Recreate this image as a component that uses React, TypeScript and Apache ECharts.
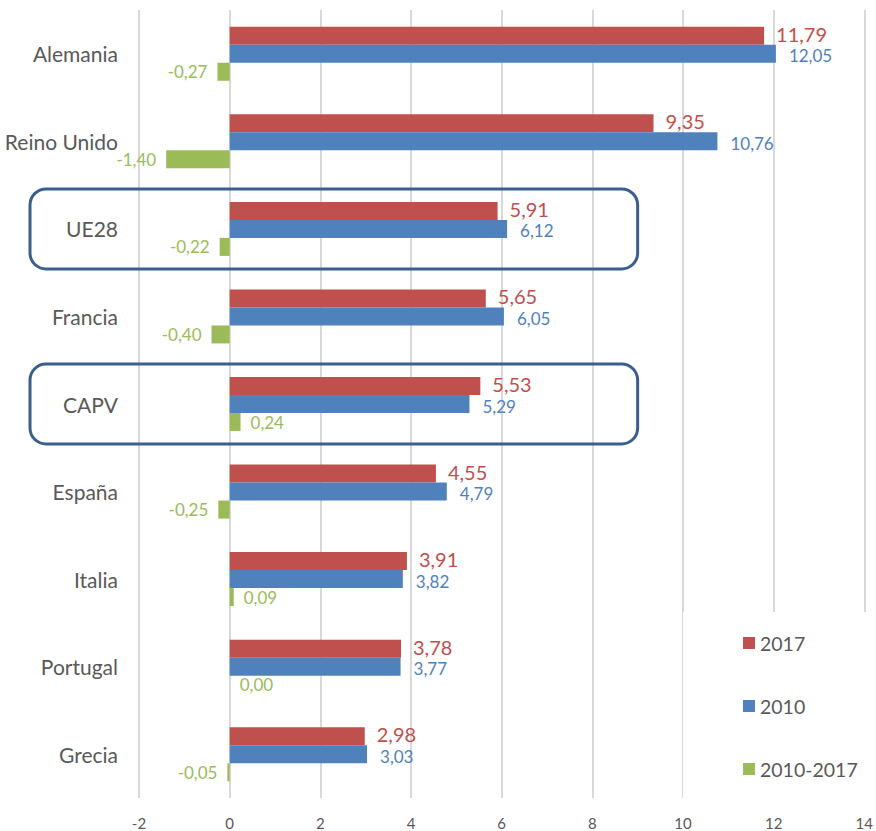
import React, { useEffect, useRef } from "react";
import * as echarts from "echarts";

const categories = ["Alemania", "Reino Unido", "UE28", "Francia", "CAPV", "España", "Italia", "Portugal", "Grecia"];
const values2017 = [11.79, 9.35, 5.91, 5.65, 5.53, 4.55, 3.91, 3.78, 2.98];
const values2010 = [12.05, 10.76, 6.12, 6.05, 5.29, 4.79, 3.82, 3.77, 3.03];
const valuesDiff = [-0.27, -1.4, -0.22, -0.4, 0.24, -0.25, 0.09, 0.0, -0.05];
const seriesNames = ["2017", "2010", "2010-2017"];
const highlighted = ["UE28", "CAPV"];
const xMin = -2;
const xMax = 14;
const xInterval = 2;

const FONT = "Lato, 'Open Sans', sans-serif";
const RED = "#C0504D";
const BLUE = "#4F81BD";
const GREEN = "#9BBB59";
const TEXT = "#595959";

const fmt = (v: number) => v.toFixed(2).replace(".", ",");

export default function App() {
  const ref = useRef<HTMLDivElement>(null);
  useEffect(() => {
    if (!ref.current) return;
    const chart = echarts.init(ref.current, null, { renderer: "svg" });
    const mkLabel = (color: string, size: number, lh: number) => ({
      show: true,
      position: "right",
      distance: 11,
      color,
      fontSize: size,
      lineHeight: lh,
      fontFamily: FONT,
      formatter: (p: any) => fmt(p.value),
    });
    chart.setOption({
      animation: false,
      textStyle: { fontFamily: FONT },
      grid: { left: 139, right: 8, top: 10, bottom: 33, containLabel: false },
      xAxis: {
        type: "value",
        min: xMin,
        max: xMax,
        interval: xInterval,
        axisLine: { show: false },
        axisTick: { show: false },
        splitLine: { show: true, lineStyle: { color: "#D9D9D9", width: 2 } },
        axisLabel: { color: TEXT, fontSize: 15, fontFamily: FONT, margin: 17 },
      },
      yAxis: {
        type: "category",
        data: categories,
        inverse: true,
        axisLine: { show: false, onZero: false },
        axisTick: { show: false },
        axisLabel: { color: TEXT, fontSize: 21, fontFamily: FONT, margin: 21 },
      },
      legend: {
        orient: "vertical",
        left: 683,
        top: 612,
        padding: [21, 30, 19, 60],
        backgroundColor: "#fff",
        itemGap: 43,
        itemWidth: 12,
        itemHeight: 12,
        itemStyle: { borderWidth: 0 },
        icon: "rect",
        textStyle: { color: TEXT, fontSize: 19.5, fontFamily: FONT, lineHeight: 18 },
        data: seriesNames,
      },
      series: [
        {
          name: seriesNames[0],
          type: "bar",
          data: values2017,
          barWidth: 18,
          barGap: "0%",
          itemStyle: { color: RED },
          label: { ...mkLabel(RED, 20, 17), distance: 12, offset: [0, -2] },
        },
        {
          name: seriesNames[1],
          type: "bar",
          data: values2010,
          barWidth: 18,
          barGap: "0%",
          itemStyle: { color: BLUE },
          label: { ...mkLabel(BLUE, 17, 15), distance: 13, offset: [0, 2] },
        },
        {
          name: seriesNames[2],
          type: "bar",
          barWidth: 18,
          barGap: "0%",
          itemStyle: { color: GREEN },
          label: mkLabel(GREEN, 17, 15),
          data: valuesDiff.map((v) => ({
            value: v,
            label: { position: v < 0 ? "left" : "right", distance: 10 },
          })),
        },
      ],
    });

    const boxes = highlighted.map((name) => {
      const cy = chart.convertToPixel({ yAxisIndex: 0 }, name) as number;
      const xRight = chart.convertToPixel({ xAxisIndex: 0 }, 9) as number;
      return {
        type: "rect",
        shape: { x: 30, y: cy - 40, width: xRight - 30, height: 80, r: 16 },
        style: { fill: "none", stroke: "#3A5F8E", lineWidth: 3 },
        z: 10,
        silent: true,
      };
    });
    chart.setOption({ graphic: boxes });

    return () => chart.dispose();
  }, []);
  return (
    <div
      ref={ref}
      style={{ position: "fixed", left: 0, top: 0, width: 876, height: 831, background: "#fff" }}
    />
  );
}
